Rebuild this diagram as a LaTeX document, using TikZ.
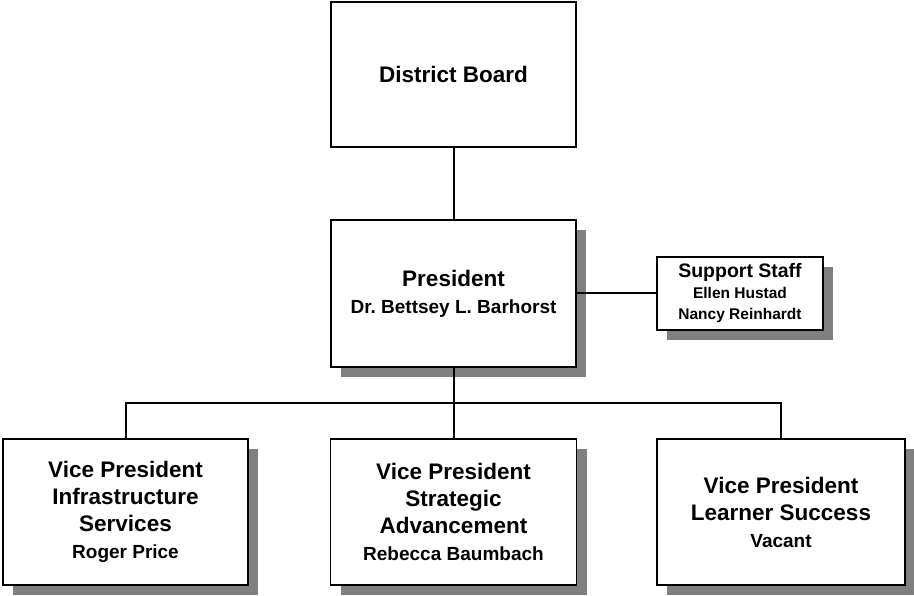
\documentclass[tikz,border=0pt]{standalone}
\usepackage{fontspec}
\setmainfont{Liberation Sans}
\usetikzlibrary{shadows}
\definecolor{shadowgray}{RGB}{128,128,128}
\newcommand{\ttl}{\fontsize{22.5}{27}\selectfont}
\newcommand{\nm}{\fontsize{19}{27}\selectfont}
\newcommand{\ssttl}{\fontsize{19.5}{21}\selectfont}
\newcommand{\ssnm}{\fontsize{15.5}{21}\selectfont}
\begin{document}
\begin{tikzpicture}[x=1pt,y=1pt,
  orgbox/.style={draw=black, line width=1.6pt, fill=white, inner sep=0pt,
    align=center, font=\bfseries\frenchspacing\ttl},
  smallbox/.style={orgbox, font=\bfseries\frenchspacing\ssttl},
  shadowed/.style={drop shadow={shadow xshift=10pt, shadow yshift=-10pt,
    fill=shadowgray, opacity=1}},
  link/.style={draw=black, line width=2pt}]
\useasboundingbox (0,0) rectangle (914,-596);

% top level
\node[orgbox, minimum width=245, minimum height=145] (board) at (453.5,-74.5)
  {District Board};

% president and support staff
\node[orgbox, shadowed, minimum width=245, minimum height=147] (pres) at (453.5,-293.5)
  {\ttl President\\\nm Dr. Bettsey L. Barhorst};
\node[smallbox, shadowed, minimum width=166, minimum height=73] (staff) at (740,-293.5)
  {\ssttl Support Staff\\\ssnm Ellen Hustad\\\ssnm Nancy Reinhardt};

% vice presidents
\node[orgbox, shadowed, minimum width=245, minimum height=146] (vpinfra) at (125.5,-512)
  {\ttl Vice President\\\ttl Infrastructure\\\ttl Services\\\nm Roger Price};
\node[orgbox, shadowed, minimum width=246, minimum height=146] (vpstrat) at (453.5,-512)
  {\ttl Vice President\\\ttl Strategic\\\ttl Advancement\\\nm Rebecca Baumbach};
\node[orgbox, shadowed, minimum width=248, minimum height=146] (vplearn) at (781,-512)
  {\ttl Vice President\\\ttl Learner Success\\\nm Vacant};

% connectors
\coordinate (bus) at (453.5,-403);
\draw[link] (board.south) -- (pres.north);
\draw[link] (pres.east) -- (staff.west);
\draw[link] (pres.south) -- (vpstrat.north);
\draw[link] (vpinfra.north) |- (bus) -| (vplearn.north);
\end{tikzpicture}
\end{document}
